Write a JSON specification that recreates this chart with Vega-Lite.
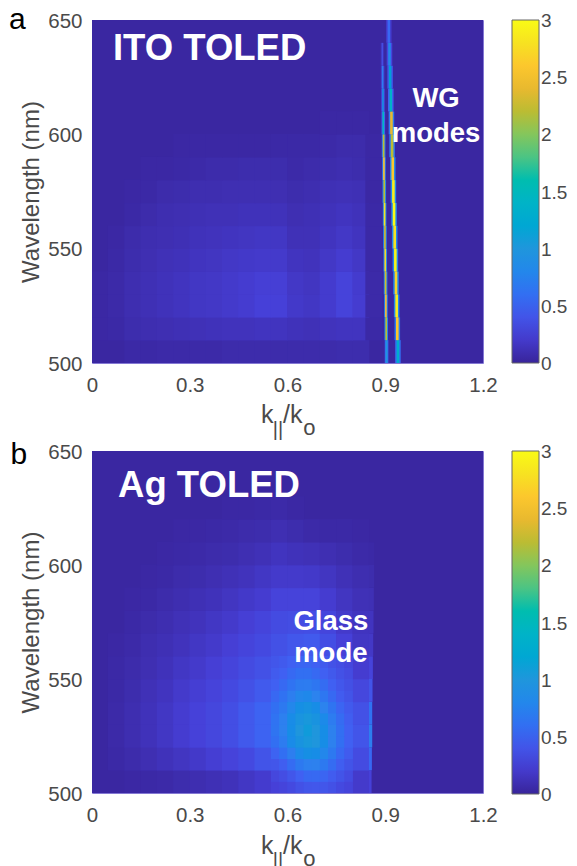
{"$schema":"https://vega.github.io/schema/vega-lite/v6.json","background":"white","padding":{"left":8,"top":4,"right":0,"bottom":0},"spacing":-2,
"config":{"view":{"stroke":"#8478d4","strokeWidth":1},"axis":{"grid":false,"domain":false,"ticks":false,"labelFlush":false,"labelFont":"Liberation Sans","labelFontSize":20.5,"labelColor":"#4a4a4a","titleFont":"Liberation Sans","titleFontSize":24,"titleFontWeight":"normal","titleColor":"#4a4a4a"},"legend":{"gradientLength":343,"gradientThickness":27,"gradientStrokeColor":"#666666","gradientStrokeWidth":1,"labelFont":"Liberation Sans","labelFontSize":19,"labelColor":"#4a4a4a","labelOffset":11}},
"datasets":{
"bg":[{"x":0,"x2":1.2,"y":500,"y2":650,"v":0.03}],
"a_cells":[
{"x":0.125,"y":505,"v":0.05},{"x":0.175,"y":505,"v":0.05},{"x":0.225,"y":505,"v":0.06},{"x":0.275,"y":505,"v":0.06},{"x":0.325,"y":505,"v":0.06},{"x":0.375,"y":505,"v":0.06},{"x":0.425,"y":505,"v":0.07},{"x":0.475,"y":505,"v":0.07},{"x":0.525,"y":505,"v":0.07},{"x":0.575,"y":505,"v":0.07},{"x":0.625,"y":505,"v":0.07},{"x":0.675,"y":505,"v":0.07},{"x":0.725,"y":505,"v":0.07},{"x":0.775,"y":505,"v":0.08},{"x":0.825,"y":505,"v":0.08},
{"x":0.025,"y":515,"v":0.04},{"x":0.075,"y":515,"v":0.05},{"x":0.125,"y":515,"v":0.08},{"x":0.175,"y":515,"v":0.09},{"x":0.225,"y":515,"v":0.1},{"x":0.275,"y":515,"v":0.11},{"x":0.325,"y":515,"v":0.12},{"x":0.375,"y":515,"v":0.13},{"x":0.425,"y":515,"v":0.14},{"x":0.475,"y":515,"v":0.14},{"x":0.525,"y":515,"v":0.15},{"x":0.575,"y":515,"v":0.15},{"x":0.625,"y":515,"v":0.13},{"x":0.675,"y":515,"v":0.12},{"x":0.725,"y":515,"v":0.14},{"x":0.775,"y":515,"v":0.15},{"x":0.825,"y":515,"v":0.15},{"x":0.865,"y":515,"v":0.05},
{"x":0.025,"y":525,"v":0.04},{"x":0.075,"y":525,"v":0.06},{"x":0.125,"y":525,"v":0.09},{"x":0.175,"y":525,"v":0.11},{"x":0.225,"y":525,"v":0.13},{"x":0.275,"y":525,"v":0.15},{"x":0.325,"y":525,"v":0.17},{"x":0.375,"y":525,"v":0.18},{"x":0.425,"y":525,"v":0.2},{"x":0.475,"y":525,"v":0.22},{"x":0.525,"y":525,"v":0.25},{"x":0.575,"y":525,"v":0.25},{"x":0.625,"y":525,"v":0.19},{"x":0.675,"y":525,"v":0.17},{"x":0.725,"y":525,"v":0.21},{"x":0.775,"y":525,"v":0.27},{"x":0.825,"y":525,"v":0.22},{"x":0.865,"y":525,"v":0.06},
{"x":0.025,"y":535,"v":0.04},{"x":0.075,"y":535,"v":0.06},{"x":0.125,"y":535,"v":0.09},{"x":0.175,"y":535,"v":0.11},{"x":0.225,"y":535,"v":0.13},{"x":0.275,"y":535,"v":0.15},{"x":0.325,"y":535,"v":0.17},{"x":0.375,"y":535,"v":0.18},{"x":0.425,"y":535,"v":0.2},{"x":0.475,"y":535,"v":0.22},{"x":0.525,"y":535,"v":0.24},{"x":0.575,"y":535,"v":0.24},{"x":0.625,"y":535,"v":0.18},{"x":0.675,"y":535,"v":0.16},{"x":0.725,"y":535,"v":0.21},{"x":0.775,"y":535,"v":0.27},{"x":0.825,"y":535,"v":0.21},{"x":0.865,"y":535,"v":0.06},
{"x":0.075,"y":545,"v":0.05},{"x":0.125,"y":545,"v":0.08},{"x":0.175,"y":545,"v":0.1},{"x":0.225,"y":545,"v":0.12},{"x":0.275,"y":545,"v":0.13},{"x":0.325,"y":545,"v":0.15},{"x":0.375,"y":545,"v":0.16},{"x":0.425,"y":545,"v":0.18},{"x":0.475,"y":545,"v":0.19},{"x":0.525,"y":545,"v":0.2},{"x":0.575,"y":545,"v":0.2},{"x":0.625,"y":545,"v":0.15},{"x":0.675,"y":545,"v":0.14},{"x":0.725,"y":545,"v":0.18},{"x":0.775,"y":545,"v":0.22},{"x":0.825,"y":545,"v":0.18},{"x":0.865,"y":545,"v":0.05},
{"x":0.075,"y":555,"v":0.04},{"x":0.125,"y":555,"v":0.07},{"x":0.175,"y":555,"v":0.09},{"x":0.225,"y":555,"v":0.1},{"x":0.275,"y":555,"v":0.11},{"x":0.325,"y":555,"v":0.13},{"x":0.375,"y":555,"v":0.14},{"x":0.425,"y":555,"v":0.15},{"x":0.475,"y":555,"v":0.16},{"x":0.525,"y":555,"v":0.17},{"x":0.575,"y":555,"v":0.17},{"x":0.625,"y":555,"v":0.12},{"x":0.675,"y":555,"v":0.12},{"x":0.725,"y":555,"v":0.15},{"x":0.775,"y":555,"v":0.18},{"x":0.825,"y":555,"v":0.15},{"x":0.865,"y":555,"v":0.05},
{"x":0.125,"y":565,"v":0.05},{"x":0.175,"y":565,"v":0.07},{"x":0.225,"y":565,"v":0.09},{"x":0.275,"y":565,"v":0.1},{"x":0.325,"y":565,"v":0.11},{"x":0.375,"y":565,"v":0.12},{"x":0.425,"y":565,"v":0.12},{"x":0.475,"y":565,"v":0.13},{"x":0.525,"y":565,"v":0.13},{"x":0.575,"y":565,"v":0.13},{"x":0.625,"y":565,"v":0.1},{"x":0.675,"y":565,"v":0.11},{"x":0.725,"y":565,"v":0.13},{"x":0.775,"y":565,"v":0.15},{"x":0.825,"y":565,"v":0.13},{"x":0.865,"y":565,"v":0.05},
{"x":0.125,"y":575,"v":0.04},{"x":0.175,"y":575,"v":0.05},{"x":0.225,"y":575,"v":0.07},{"x":0.275,"y":575,"v":0.08},{"x":0.325,"y":575,"v":0.09},{"x":0.375,"y":575,"v":0.09},{"x":0.425,"y":575,"v":0.1},{"x":0.475,"y":575,"v":0.1},{"x":0.525,"y":575,"v":0.1},{"x":0.575,"y":575,"v":0.1},{"x":0.625,"y":575,"v":0.08},{"x":0.675,"y":575,"v":0.09},{"x":0.725,"y":575,"v":0.11},{"x":0.775,"y":575,"v":0.12},{"x":0.825,"y":575,"v":0.11},{"x":0.865,"y":575,"v":0.04},
{"x":0.175,"y":585,"v":0.04},{"x":0.225,"y":585,"v":0.04},{"x":0.275,"y":585,"v":0.05},{"x":0.325,"y":585,"v":0.06},{"x":0.375,"y":585,"v":0.07},{"x":0.425,"y":585,"v":0.07},{"x":0.475,"y":585,"v":0.08},{"x":0.525,"y":585,"v":0.08},{"x":0.575,"y":585,"v":0.08},{"x":0.625,"y":585,"v":0.06},{"x":0.675,"y":585,"v":0.07},{"x":0.725,"y":585,"v":0.08},{"x":0.775,"y":585,"v":0.09},{"x":0.825,"y":585,"v":0.08},{"x":0.865,"y":585,"v":0.04},
{"x":0.275,"y":595,"v":0.04},{"x":0.325,"y":595,"v":0.04},{"x":0.375,"y":595,"v":0.04},{"x":0.425,"y":595,"v":0.04},{"x":0.475,"y":595,"v":0.04},{"x":0.525,"y":595,"v":0.04},{"x":0.575,"y":595,"v":0.05},{"x":0.625,"y":595,"v":0.05},{"x":0.675,"y":595,"v":0.05},{"x":0.725,"y":595,"v":0.06},{"x":0.775,"y":595,"v":0.07},{"x":0.825,"y":595,"v":0.07},{"x":0.865,"y":595,"v":0.04},
{"x":0.725,"y":605,"v":0.04},{"x":0.775,"y":605,"v":0.04},{"x":0.825,"y":605,"v":0.04}
],
"a_modes":[
{"x":0.8985,"x2":0.9095,"y":500,"y2":510,"v":0.6},{"x":0.8975,"x2":0.9085,"y":510,"y2":520,"v":0.8},{"x":0.8965,"x2":0.9075,"y":520,"y2":530,"v":0.8},{"x":0.8955,"x2":0.9065,"y":530,"y2":540,"v":0.8},{"x":0.8945,"x2":0.9055,"y":540,"y2":550,"v":0.8},{"x":0.8935,"x2":0.9045,"y":550,"y2":560,"v":0.8},{"x":0.8925,"x2":0.9035,"y":560,"y2":570,"v":0.8},{"x":0.8915,"x2":0.9025,"y":570,"y2":580,"v":0.8},{"x":0.8905,"x2":0.9015,"y":580,"y2":590,"v":0.7},{"x":0.8895,"x2":0.9005,"y":590,"y2":600,"v":0.7},{"x":0.8885,"x2":0.8995,"y":600,"y2":610,"v":0.5},{"x":0.8875,"x2":0.8985,"y":610,"y2":620,"v":0.3},{"x":0.8865,"x2":0.8975,"y":620,"y2":630,"v":0.2},{"x":0.8855,"x2":0.8965,"y":630,"y2":640,"v":0.1},
{"x":0.9015,"x2":0.9065,"y":500,"y2":510,"v":1.0},{"x":0.9005,"x2":0.9055,"y":510,"y2":520,"v":2.2},{"x":0.8995,"x2":0.9045,"y":520,"y2":530,"v":2.5},{"x":0.8985,"x2":0.9035,"y":530,"y2":540,"v":2.3},{"x":0.8975,"x2":0.9025,"y":540,"y2":550,"v":2.7},{"x":0.8965,"x2":0.9015,"y":550,"y2":560,"v":2.3},{"x":0.8955,"x2":0.9005,"y":560,"y2":570,"v":2.8},{"x":0.8945,"x2":0.8995,"y":570,"y2":580,"v":2.2},{"x":0.8935,"x2":0.8985,"y":580,"y2":590,"v":2.6},{"x":0.8925,"x2":0.8975,"y":590,"y2":600,"v":2.2},{"x":0.8915,"x2":0.8965,"y":600,"y2":610,"v":1.5},{"x":0.8905,"x2":0.8955,"y":610,"y2":620,"v":0.9},{"x":0.8895,"x2":0.8945,"y":620,"y2":630,"v":0.7},{"x":0.8885,"x2":0.8935,"y":630,"y2":640,"v":0.35},
{"x":0.9305,"x2":0.9475,"y":500,"y2":510,"v":0.6},{"x":0.9285,"x2":0.9455,"y":510,"y2":520,"v":0.7},{"x":0.9265,"x2":0.9435,"y":520,"y2":530,"v":0.8},{"x":0.9245,"x2":0.9415,"y":530,"y2":540,"v":0.8},{"x":0.9225,"x2":0.9395,"y":540,"y2":550,"v":0.8},{"x":0.9205,"x2":0.9375,"y":550,"y2":560,"v":0.8},{"x":0.9185,"x2":0.9355,"y":560,"y2":570,"v":0.8},{"x":0.9165,"x2":0.9335,"y":570,"y2":580,"v":0.8},{"x":0.9145,"x2":0.9315,"y":580,"y2":590,"v":0.8},{"x":0.9125,"x2":0.9295,"y":590,"y2":600,"v":0.7},{"x":0.9105,"x2":0.9275,"y":600,"y2":610,"v":0.7},{"x":0.9085,"x2":0.9255,"y":610,"y2":620,"v":0.5},{"x":0.9065,"x2":0.9235,"y":620,"y2":630,"v":0.4},{"x":0.9045,"x2":0.9215,"y":630,"y2":640,"v":0.3},{"x":0.9025,"x2":0.9195,"y":640,"y2":650,"v":0.2},
{"x":0.935,"x2":0.943,"y":500,"y2":510,"v":1.3},{"x":0.933,"x2":0.941,"y":510,"y2":520,"v":2.6},{"x":0.931,"x2":0.939,"y":520,"y2":530,"v":2.9},{"x":0.929,"x2":0.937,"y":530,"y2":540,"v":2.7},{"x":0.927,"x2":0.935,"y":540,"y2":550,"v":2.95},{"x":0.925,"x2":0.933,"y":550,"y2":560,"v":2.8},{"x":0.923,"x2":0.931,"y":560,"y2":570,"v":3},{"x":0.921,"x2":0.929,"y":570,"y2":580,"v":2.9},{"x":0.919,"x2":0.927,"y":580,"y2":590,"v":2.6},{"x":0.917,"x2":0.925,"y":590,"y2":600,"v":2.2},{"x":0.915,"x2":0.923,"y":600,"y2":610,"v":2.4},{"x":0.913,"x2":0.921,"y":610,"y2":620,"v":1.4},{"x":0.911,"x2":0.919,"y":620,"y2":630,"v":1.1},{"x":0.909,"x2":0.917,"y":630,"y2":640,"v":0.8},{"x":0.907,"x2":0.915,"y":640,"y2":650,"v":0.55}
],
"b_cells":[
{"x":0.125,"y":505,"v":0.04},{"x":0.175,"y":505,"v":0.05},{"x":0.225,"y":505,"v":0.06},{"x":0.275,"y":505,"v":0.08},{"x":0.325,"y":505,"v":0.09},{"x":0.375,"y":505,"v":0.11},{"x":0.425,"y":505,"v":0.13},{"x":0.475,"y":505,"v":0.17},{"x":0.525,"y":505,"v":0.21},{"x":0.575,"y":505,"v":0.27},{"x":0.625,"y":505,"v":0.37},{"x":0.675,"y":505,"v":0.48},{"x":0.725,"y":505,"v":0.46},{"x":0.775,"y":505,"v":0.35},{"x":0.825,"y":505,"v":0.2},
{"x":0.075,"y":515,"v":0.05},{"x":0.125,"y":515,"v":0.07},{"x":0.175,"y":515,"v":0.1},{"x":0.225,"y":515,"v":0.13},{"x":0.275,"y":515,"v":0.16},{"x":0.325,"y":515,"v":0.19},{"x":0.375,"y":515,"v":0.23},{"x":0.425,"y":515,"v":0.27},{"x":0.475,"y":515,"v":0.32},{"x":0.525,"y":515,"v":0.4},{"x":0.575,"y":515,"v":0.52},{"x":0.625,"y":515,"v":0.68},{"x":0.675,"y":515,"v":0.8},{"x":0.725,"y":515,"v":0.72},{"x":0.775,"y":515,"v":0.5},{"x":0.825,"y":515,"v":0.33},
{"x":0.075,"y":525,"v":0.06},{"x":0.125,"y":525,"v":0.09},{"x":0.175,"y":525,"v":0.13},{"x":0.225,"y":525,"v":0.17},{"x":0.275,"y":525,"v":0.22},{"x":0.325,"y":525,"v":0.26},{"x":0.375,"y":525,"v":0.3},{"x":0.425,"y":525,"v":0.36},{"x":0.475,"y":525,"v":0.44},{"x":0.525,"y":525,"v":0.52},{"x":0.575,"y":525,"v":0.68},{"x":0.625,"y":525,"v":0.88},{"x":0.675,"y":525,"v":1.0},{"x":0.725,"y":525,"v":0.78},{"x":0.775,"y":525,"v":0.55},{"x":0.825,"y":525,"v":0.41},
{"x":0.075,"y":535,"v":0.06},{"x":0.125,"y":535,"v":0.09},{"x":0.175,"y":535,"v":0.13},{"x":0.225,"y":535,"v":0.17},{"x":0.275,"y":535,"v":0.22},{"x":0.325,"y":535,"v":0.26},{"x":0.375,"y":535,"v":0.3},{"x":0.425,"y":535,"v":0.36},{"x":0.475,"y":535,"v":0.44},{"x":0.525,"y":535,"v":0.52},{"x":0.575,"y":535,"v":0.66},{"x":0.625,"y":535,"v":0.85},{"x":0.675,"y":535,"v":0.95},{"x":0.725,"y":535,"v":0.72},{"x":0.775,"y":535,"v":0.5},{"x":0.825,"y":535,"v":0.38},
{"x":0.075,"y":545,"v":0.05},{"x":0.125,"y":545,"v":0.08},{"x":0.175,"y":545,"v":0.12},{"x":0.225,"y":545,"v":0.15},{"x":0.275,"y":545,"v":0.2},{"x":0.325,"y":545,"v":0.23},{"x":0.375,"y":545,"v":0.27},{"x":0.425,"y":545,"v":0.32},{"x":0.475,"y":545,"v":0.38},{"x":0.525,"y":545,"v":0.45},{"x":0.575,"y":545,"v":0.55},{"x":0.625,"y":545,"v":0.68},{"x":0.675,"y":545,"v":0.75},{"x":0.725,"y":545,"v":0.58},{"x":0.775,"y":545,"v":0.4},{"x":0.825,"y":545,"v":0.3},
{"x":0.075,"y":555,"v":0.05},{"x":0.125,"y":555,"v":0.07},{"x":0.175,"y":555,"v":0.1},{"x":0.225,"y":555,"v":0.13},{"x":0.275,"y":555,"v":0.17},{"x":0.325,"y":555,"v":0.2},{"x":0.375,"y":555,"v":0.24},{"x":0.425,"y":555,"v":0.28},{"x":0.475,"y":555,"v":0.33},{"x":0.525,"y":555,"v":0.38},{"x":0.575,"y":555,"v":0.46},{"x":0.625,"y":555,"v":0.54},{"x":0.675,"y":555,"v":0.58},{"x":0.725,"y":555,"v":0.46},{"x":0.775,"y":555,"v":0.32},{"x":0.825,"y":555,"v":0.22},
{"x":0.075,"y":565,"v":0.04},{"x":0.125,"y":565,"v":0.06},{"x":0.175,"y":565,"v":0.09},{"x":0.225,"y":565,"v":0.11},{"x":0.275,"y":565,"v":0.14},{"x":0.325,"y":565,"v":0.17},{"x":0.375,"y":565,"v":0.2},{"x":0.425,"y":565,"v":0.24},{"x":0.475,"y":565,"v":0.28},{"x":0.525,"y":565,"v":0.32},{"x":0.575,"y":565,"v":0.38},{"x":0.625,"y":565,"v":0.43},{"x":0.675,"y":565,"v":0.45},{"x":0.725,"y":565,"v":0.36},{"x":0.775,"y":565,"v":0.25},{"x":0.825,"y":565,"v":0.17},
{"x":0.125,"y":575,"v":0.05},{"x":0.175,"y":575,"v":0.07},{"x":0.225,"y":575,"v":0.09},{"x":0.275,"y":575,"v":0.12},{"x":0.325,"y":575,"v":0.14},{"x":0.375,"y":575,"v":0.17},{"x":0.425,"y":575,"v":0.2},{"x":0.475,"y":575,"v":0.24},{"x":0.525,"y":575,"v":0.28},{"x":0.575,"y":575,"v":0.33},{"x":0.625,"y":575,"v":0.35},{"x":0.675,"y":575,"v":0.36},{"x":0.725,"y":575,"v":0.29},{"x":0.775,"y":575,"v":0.2},{"x":0.825,"y":575,"v":0.15},
{"x":0.125,"y":585,"v":0.04},{"x":0.175,"y":585,"v":0.05},{"x":0.225,"y":585,"v":0.07},{"x":0.275,"y":585,"v":0.09},{"x":0.325,"y":585,"v":0.11},{"x":0.375,"y":585,"v":0.13},{"x":0.425,"y":585,"v":0.16},{"x":0.475,"y":585,"v":0.19},{"x":0.525,"y":585,"v":0.22},{"x":0.575,"y":585,"v":0.27},{"x":0.625,"y":585,"v":0.27},{"x":0.675,"y":585,"v":0.27},{"x":0.725,"y":585,"v":0.22},{"x":0.775,"y":585,"v":0.16},{"x":0.825,"y":585,"v":0.12},
{"x":0.175,"y":595,"v":0.04},{"x":0.225,"y":595,"v":0.05},{"x":0.275,"y":595,"v":0.07},{"x":0.325,"y":595,"v":0.08},{"x":0.375,"y":595,"v":0.1},{"x":0.425,"y":595,"v":0.12},{"x":0.475,"y":595,"v":0.14},{"x":0.525,"y":595,"v":0.17},{"x":0.575,"y":595,"v":0.2},{"x":0.625,"y":595,"v":0.2},{"x":0.675,"y":595,"v":0.19},{"x":0.725,"y":595,"v":0.16},{"x":0.775,"y":595,"v":0.12},{"x":0.825,"y":595,"v":0.09},
{"x":0.225,"y":605,"v":0.04},{"x":0.275,"y":605,"v":0.05},{"x":0.325,"y":605,"v":0.06},{"x":0.375,"y":605,"v":0.07},{"x":0.425,"y":605,"v":0.08},{"x":0.475,"y":605,"v":0.1},{"x":0.525,"y":605,"v":0.12},{"x":0.575,"y":605,"v":0.15},{"x":0.625,"y":605,"v":0.13},{"x":0.675,"y":605,"v":0.12},{"x":0.725,"y":605,"v":0.1},{"x":0.775,"y":605,"v":0.08},{"x":0.825,"y":605,"v":0.06},
{"x":0.275,"y":615,"v":0.04},{"x":0.325,"y":615,"v":0.04},{"x":0.375,"y":615,"v":0.05},{"x":0.425,"y":615,"v":0.06},{"x":0.475,"y":615,"v":0.07},{"x":0.525,"y":615,"v":0.08},{"x":0.575,"y":615,"v":0.1},{"x":0.625,"y":615,"v":0.08},{"x":0.675,"y":615,"v":0.06},{"x":0.725,"y":615,"v":0.05},{"x":0.775,"y":615,"v":0.05},{"x":0.825,"y":615,"v":0.04},
{"x":0.425,"y":625,"v":0.04},{"x":0.475,"y":625,"v":0.04},{"x":0.525,"y":625,"v":0.05},{"x":0.575,"y":625,"v":0.06},{"x":0.625,"y":625,"v":0.04}
],
"b_fine":[
{"x":0.5625,"y":502.5,"v":0.25},{"x":0.5875,"y":502.5,"v":0.28},{"x":0.6125,"y":502.5,"v":0.32},{"x":0.6375,"y":502.5,"v":0.38},{"x":0.6625,"y":502.5,"v":0.42},{"x":0.6875,"y":502.5,"v":0.43},{"x":0.7125,"y":502.5,"v":0.42},{"x":0.7375,"y":502.5,"v":0.38},{"x":0.7625,"y":502.5,"v":0.32},{"x":0.7875,"y":502.5,"v":0.28},
{"x":0.5625,"y":507.5,"v":0.3},{"x":0.5875,"y":507.5,"v":0.35},{"x":0.6125,"y":507.5,"v":0.42},{"x":0.6375,"y":507.5,"v":0.5},{"x":0.6625,"y":507.5,"v":0.55},{"x":0.6875,"y":507.5,"v":0.56},{"x":0.7125,"y":507.5,"v":0.53},{"x":0.7375,"y":507.5,"v":0.47},{"x":0.7625,"y":507.5,"v":0.4},{"x":0.7875,"y":507.5,"v":0.33},
{"x":0.5625,"y":512.5,"v":0.42},{"x":0.5875,"y":512.5,"v":0.48},{"x":0.6125,"y":512.5,"v":0.58},{"x":0.6375,"y":512.5,"v":0.68},{"x":0.6625,"y":512.5,"v":0.73},{"x":0.6875,"y":512.5,"v":0.74},{"x":0.7125,"y":512.5,"v":0.68},{"x":0.7375,"y":512.5,"v":0.58},{"x":0.7625,"y":512.5,"v":0.48},{"x":0.7875,"y":512.5,"v":0.4},
{"x":0.5625,"y":517.5,"v":0.52},{"x":0.5875,"y":517.5,"v":0.6},{"x":0.6125,"y":517.5,"v":0.72},{"x":0.6375,"y":517.5,"v":0.84},{"x":0.6625,"y":517.5,"v":0.9},{"x":0.6875,"y":517.5,"v":0.88},{"x":0.7125,"y":517.5,"v":0.8},{"x":0.7375,"y":517.5,"v":0.68},{"x":0.7625,"y":517.5,"v":0.55},{"x":0.7875,"y":517.5,"v":0.46},
{"x":0.5625,"y":522.5,"v":0.6},{"x":0.5875,"y":522.5,"v":0.7},{"x":0.6125,"y":522.5,"v":0.85},{"x":0.6375,"y":522.5,"v":0.96},{"x":0.6625,"y":522.5,"v":1.02},{"x":0.6875,"y":522.5,"v":1.0},{"x":0.7125,"y":522.5,"v":0.88},{"x":0.7375,"y":522.5,"v":0.74},{"x":0.7625,"y":522.5,"v":0.6},{"x":0.7875,"y":522.5,"v":0.5},
{"x":0.5625,"y":527.5,"v":0.64},{"x":0.5875,"y":527.5,"v":0.74},{"x":0.6125,"y":527.5,"v":0.88},{"x":0.6375,"y":527.5,"v":1.0},{"x":0.6625,"y":527.5,"v":1.05},{"x":0.6875,"y":527.5,"v":1.0},{"x":0.7125,"y":527.5,"v":0.88},{"x":0.7375,"y":527.5,"v":0.74},{"x":0.7625,"y":527.5,"v":0.6},{"x":0.7875,"y":527.5,"v":0.5},
{"x":0.5625,"y":532.5,"v":0.63},{"x":0.5875,"y":532.5,"v":0.73},{"x":0.6125,"y":532.5,"v":0.86},{"x":0.6375,"y":532.5,"v":0.97},{"x":0.6625,"y":532.5,"v":1.02},{"x":0.6875,"y":532.5,"v":0.96},{"x":0.7125,"y":532.5,"v":0.84},{"x":0.7375,"y":532.5,"v":0.7},{"x":0.7625,"y":532.5,"v":0.58},{"x":0.7875,"y":532.5,"v":0.48},
{"x":0.5625,"y":537.5,"v":0.6},{"x":0.5875,"y":537.5,"v":0.68},{"x":0.6125,"y":537.5,"v":0.8},{"x":0.6375,"y":537.5,"v":0.9},{"x":0.6625,"y":537.5,"v":0.94},{"x":0.6875,"y":537.5,"v":0.88},{"x":0.7125,"y":537.5,"v":0.76},{"x":0.7375,"y":537.5,"v":0.64},{"x":0.7625,"y":537.5,"v":0.53},{"x":0.7875,"y":537.5,"v":0.45},
{"x":0.5625,"y":542.5,"v":0.55},{"x":0.5875,"y":542.5,"v":0.62},{"x":0.6125,"y":542.5,"v":0.72},{"x":0.6375,"y":542.5,"v":0.8},{"x":0.6625,"y":542.5,"v":0.82},{"x":0.6875,"y":542.5,"v":0.76},{"x":0.7125,"y":542.5,"v":0.66},{"x":0.7375,"y":542.5,"v":0.56},{"x":0.7625,"y":542.5,"v":0.47},{"x":0.7875,"y":542.5,"v":0.4},
{"x":0.5625,"y":547.5,"v":0.5},{"x":0.5875,"y":547.5,"v":0.56},{"x":0.6125,"y":547.5,"v":0.63},{"x":0.6375,"y":547.5,"v":0.69},{"x":0.6625,"y":547.5,"v":0.7},{"x":0.6875,"y":547.5,"v":0.65},{"x":0.7125,"y":547.5,"v":0.58},{"x":0.7375,"y":547.5,"v":0.5},{"x":0.7625,"y":547.5,"v":0.43},{"x":0.7875,"y":547.5,"v":0.37},
{"x":0.5625,"y":552.5,"v":0.46},{"x":0.5875,"y":552.5,"v":0.5},{"x":0.6125,"y":552.5,"v":0.56},{"x":0.6375,"y":552.5,"v":0.6},{"x":0.6625,"y":552.5,"v":0.6},{"x":0.6875,"y":552.5,"v":0.56},{"x":0.7125,"y":552.5,"v":0.5},{"x":0.7375,"y":552.5,"v":0.44},{"x":0.7625,"y":552.5,"v":0.38},{"x":0.7875,"y":552.5,"v":0.33},
{"x":0.5625,"y":557.5,"v":0.42},{"x":0.5875,"y":557.5,"v":0.45},{"x":0.6125,"y":557.5,"v":0.5},{"x":0.6375,"y":557.5,"v":0.53},{"x":0.6625,"y":557.5,"v":0.53},{"x":0.6875,"y":557.5,"v":0.5},{"x":0.7125,"y":557.5,"v":0.45},{"x":0.7375,"y":557.5,"v":0.39},{"x":0.7625,"y":557.5,"v":0.35},{"x":0.7875,"y":557.5,"v":0.3}
],
"b_edge":[
{"x":0.85,"x2":0.858,"y":500,"y2":510,"v":0.25},{"x":0.85,"x2":0.859,"y":510,"y2":520,"v":0.55},{"x":0.85,"x2":0.86,"y":520,"y2":530,"v":0.72},{"x":0.85,"x2":0.86,"y":530,"y2":540,"v":0.62},{"x":0.85,"x2":0.861,"y":540,"y2":550,"v":0.4},{"x":0.85,"x2":0.862,"y":550,"y2":560,"v":0.27},{"x":0.85,"x2":0.863,"y":560,"y2":570,"v":0.18},{"x":0.85,"x2":0.864,"y":570,"y2":580,"v":0.15},{"x":0.85,"x2":0.865,"y":580,"y2":590,"v":0.11},{"x":0.85,"x2":0.866,"y":590,"y2":600,"v":0.08},{"x":0.85,"x2":0.866,"y":600,"y2":610,"v":0.05}
]},
"vconcat":[
{"width":391,"height":343,"layer":[
{"data":{"name":"bg"},"mark":{"type":"rect","clip":true},"encoding":{"x":{"field":"x","type":"quantitative","scale":{"domain":[0,1.2],"nice":false,"zero":false,"padding":0},"axis":{"values":[0,0.3,0.6,0.9,1.2],"format":"~g","title":null,"labelPadding":12}},"x2":{"field":"x2"},"y":{"field":"y","type":"quantitative","scale":{"domain":[500,650],"nice":false,"zero":false,"padding":0},"axis":{"values":[500,550,600,650],"title":"Wavelength (nm)","labelPadding":10,"titlePadding":4,"labelOffset":1}},"y2":{"field":"y2"},"color":{"field":"v","type":"quantitative","scale":{"domain":[0,0.25,0.5,0.75,1,1.25,1.5,1.75,2,2.25,2.5,2.75,3],"range":["#38249a","#4640d8","#4060f2","#2e82ee","#1f96dc","#0dabd0","#00b8c0","#3cc38e","#84c65c","#c9b82c","#fdb935","#f6dc24","#f9fb15"]},"legend":{"title":null,"orient":"none","legendX":420,"legendY":0,"values":[0,0.5,1,1.5,2,2.5,3],"format":"~g","encode":{"labels":{"update":{"baseline":{"value":"middle"},"dy":{"value":1}}}}}}}},
{"data":{"name":"a_cells"},"mark":{"type":"rect","clip":true,"width":17,"height":23.5},"encoding":{"x":{"field":"x","type":"quantitative"},"y":{"field":"y","type":"quantitative"},"color":{"field":"v","type":"quantitative"}}},
{"data":{"name":"a_modes"},"mark":{"type":"rect","clip":true},"encoding":{"x":{"field":"x","type":"quantitative"},"x2":{"field":"x2"},"y":{"field":"y","type":"quantitative"},"y2":{"field":"y2"},"color":{"field":"v","type":"quantitative"}}},
{"data":{"values":[{}]},"mark":{"type":"text","text":"a","align":"left","baseline":"alphabetic","font":"Liberation Sans","fontSize":30,"color":"black"},"encoding":{"x":{"datum":-0.255},"y":{"datum":646}}},
{"data":{"values":[{}]},"mark":{"type":"text","text":"ITO TOLED","align":"left","baseline":"alphabetic","font":"Liberation Sans","fontWeight":"bold","fontSize":36.5,"color":"white"},"encoding":{"x":{"datum":0.0644},"y":{"datum":632.5}}},
{"data":{"values":[{}]},"mark":{"type":"text","text":"WG","align":"center","baseline":"alphabetic","font":"Liberation Sans","fontWeight":"bold","fontSize":27.5,"color":"white"},"encoding":{"x":{"datum":1.056},"y":{"datum":612}}},
{"data":{"values":[{}]},"mark":{"type":"text","text":"modes","align":"center","baseline":"alphabetic","font":"Liberation Sans","fontWeight":"bold","fontSize":27.5,"color":"white"},"encoding":{"x":{"datum":1.056},"y":{"datum":596.7}}},
{"data":{"values":[{}]},"mark":{"type":"text","text":"k","align":"left","baseline":"alphabetic","font":"Liberation Sans","fontSize":25,"color":"#4a4a4a"},"encoding":{"x":{"datum":0.519},"y":{"datum":473.8}}},
{"data":{"values":[{}]},"mark":{"type":"text","text":"||","align":"left","baseline":"alphabetic","font":"Liberation Sans","fontSize":20,"color":"#4a4a4a"},"encoding":{"x":{"datum":0.555},"y":{"datum":468}}},
{"data":{"values":[{}]},"mark":{"type":"text","text":"/k","align":"left","baseline":"alphabetic","font":"Liberation Sans","fontSize":25,"color":"#4a4a4a"},"encoding":{"x":{"datum":0.586},"y":{"datum":473.8}}},
{"data":{"values":[{}]},"mark":{"type":"text","text":"o","align":"left","baseline":"alphabetic","font":"Liberation Sans","fontSize":22,"color":"#4a4a4a"},"encoding":{"x":{"datum":0.648},"y":{"datum":468.5}}}
]},
{"width":391,"height":342,"layer":[
{"data":{"name":"bg"},"mark":{"type":"rect","clip":true},"encoding":{"x":{"field":"x","type":"quantitative","scale":{"domain":[0,1.2],"nice":false,"zero":false,"padding":0},"axis":{"values":[0,0.3,0.6,0.9,1.2],"format":"~g","title":null,"labelPadding":12}},"x2":{"field":"x2"},"y":{"field":"y","type":"quantitative","scale":{"domain":[500,650],"nice":false,"zero":false,"padding":0},"axis":{"values":[500,550,600,650],"title":"Wavelength (nm)","labelPadding":10,"titlePadding":4,"labelOffset":1}},"y2":{"field":"y2"},"color":{"field":"v","type":"quantitative","scale":{"domain":[0,0.25,0.5,0.75,1,1.25,1.5,1.75,2,2.25,2.5,2.75,3],"range":["#38249a","#4640d8","#4060f2","#2e82ee","#1f96dc","#0dabd0","#00b8c0","#3cc38e","#84c65c","#c9b82c","#fdb935","#f6dc24","#f9fb15"]},"legend":{"title":null,"orient":"none","legendX":420,"legendY":0,"values":[0,0.5,1,1.5,2,2.5,3],"format":"~g","encode":{"labels":{"update":{"baseline":{"value":"middle"},"dy":{"value":1}}}}}}}},
{"data":{"name":"b_cells"},"mark":{"type":"rect","clip":true,"width":17,"height":23.5},"encoding":{"x":{"field":"x","type":"quantitative"},"y":{"field":"y","type":"quantitative"},"color":{"field":"v","type":"quantitative"}}},
{"data":{"name":"b_fine"},"mark":{"type":"rect","clip":true,"width":8.6,"height":11.9},"encoding":{"x":{"field":"x","type":"quantitative"},"y":{"field":"y","type":"quantitative"},"color":{"field":"v","type":"quantitative"}}},
{"data":{"name":"b_edge"},"mark":{"type":"rect","clip":true},"encoding":{"x":{"field":"x","type":"quantitative"},"x2":{"field":"x2"},"y":{"field":"y","type":"quantitative"},"y2":{"field":"y2"},"color":{"field":"v","type":"quantitative"}}},
{"data":{"values":[{}]},"mark":{"type":"text","text":"b","align":"left","baseline":"alphabetic","font":"Liberation Sans","fontSize":30,"color":"black"},"encoding":{"x":{"datum":-0.25},"y":{"datum":644.3}}},
{"data":{"values":[{}]},"mark":{"type":"text","text":"Ag TOLED","align":"left","baseline":"alphabetic","font":"Liberation Sans","fontWeight":"bold","fontSize":36.5,"color":"white"},"encoding":{"x":{"datum":0.08},"y":{"datum":629.9}}},
{"data":{"values":[{}]},"mark":{"type":"text","text":"Glass","align":"center","baseline":"alphabetic","font":"Liberation Sans","fontWeight":"bold","fontSize":27.5,"color":"white"},"encoding":{"x":{"datum":0.733},"y":{"datum":571.7}}},
{"data":{"values":[{}]},"mark":{"type":"text","text":"mode","align":"center","baseline":"alphabetic","font":"Liberation Sans","fontWeight":"bold","fontSize":27.5,"color":"white"},"encoding":{"x":{"datum":0.733},"y":{"datum":557.3}}},
{"data":{"values":[{}]},"mark":{"type":"text","text":"k","align":"left","baseline":"alphabetic","font":"Liberation Sans","fontSize":25,"color":"#4a4a4a"},"encoding":{"x":{"datum":0.519},"y":{"datum":473.3}}},
{"data":{"values":[{}]},"mark":{"type":"text","text":"||","align":"left","baseline":"alphabetic","font":"Liberation Sans","fontSize":20,"color":"#4a4a4a"},"encoding":{"x":{"datum":0.555},"y":{"datum":467.5}}},
{"data":{"values":[{}]},"mark":{"type":"text","text":"/k","align":"left","baseline":"alphabetic","font":"Liberation Sans","fontSize":25,"color":"#4a4a4a"},"encoding":{"x":{"datum":0.586},"y":{"datum":473.3}}},
{"data":{"values":[{}]},"mark":{"type":"text","text":"o","align":"left","baseline":"alphabetic","font":"Liberation Sans","fontSize":22,"color":"#4a4a4a"},"encoding":{"x":{"datum":0.648},"y":{"datum":468}}}
]}
],
"resolve":{"scale":{"color":"independent"}}}
